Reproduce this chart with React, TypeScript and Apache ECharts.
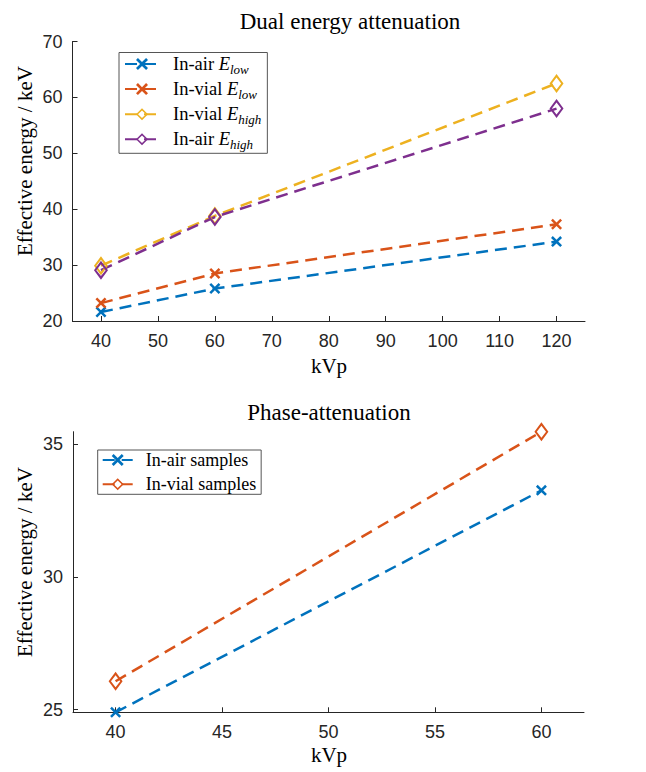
import React, { useEffect, useRef } from "react";
import * as echarts from "echarts";

// ---- Data ----
const dualKvp = [40, 60, 120];
const inAirLow = [21.6, 25.8, 34.2];
const inVialLow = [23.2, 28.5, 37.3];
const inVialHigh = [29.9, 38.8, 62.5];
const inAirHigh = [29.1, 38.6, 58.0];

const phaseKvp = [40, 60];
const inAirSamples = [24.9, 33.26];
const inVialSamples = [26.07, 35.47];

const dualXTicks = [40, 50, 60, 70, 80, 90, 100, 110, 120];
const phaseXTicks = [40, 45, 50, 55, 60];
const phaseYTicks = [25, 30, 35];

const BLUE = "#0072BD";
const ORANGE = "#D95319";
const YELLOW = "#EDB120";
const PURPLE = "#7E2F8E";
const AXIS = "#262626";
const SERIF = "Liberation Serif";
const SANS = "Liberation Sans";

const X_SYMBOL =
  "path://M0,1.6L1.6,0L5,3.4L8.4,0L10,1.6L6.6,5L10,8.4L8.4,10L5,6.6L1.6,10L0,8.4L3.4,5Z";
const D_SYMBOL =
  "path://M5,0L10,7L5,14L0,7ZM5,2.6L1.7,7L5,11.4L8.3,7Z";

const legendLabels: Record<string, string> = {
  "In-air E_low": "{n|In-air }{e|E}{s|low}",
  "In-vial E_low": "{n|In-vial }{e|E}{s|low}",
  "In-vial E_high": "{n|In-vial }{e|E}{s|high}",
  "In-air E_high": "{n|In-air }{e|E}{s|high}",
  "In-air samples": "{m|In-air samples}",
  "In-vial samples": "{m|In-vial samples}",
};

function mkSeries(
  name: string,
  xs: number[],
  ys: number[],
  color: string,
  symbol: string,
  size: number | number[],
  idx: number
) {
  return {
    type: "line",
    name,
    xAxisIndex: idx,
    yAxisIndex: idx,
    data: xs.map((x, i) => [x, ys[i]]),
    symbol,
    symbolSize: size,
    showSymbol: true,
    clip: false,
    lineStyle: { color, width: 2.5, type: [12, 7] },
    itemStyle: { color },
    emphasis: { disabled: true },
  };
}

function axisCommon() {
  return {
    type: "value",
    axisLine: { show: true, onZero: false, lineStyle: { color: AXIS, width: 1 } },
    splitLine: { show: false },
  };
}

export default function App() {
  const ref = useRef<HTMLDivElement>(null);

  useEffect(() => {
    if (!ref.current) return;
    const chart = echarts.init(ref.current, undefined, { renderer: "svg" });

    const labelStyle = { color: AXIS, fontFamily: SANS, fontSize: 18 };
    const tickStyle = { show: true, inside: true, length: 5, lineStyle: { color: AXIS, width: 1 } };
    const txt = (text: string, x: number, y: number, size: number, rot = 0) => ({
      type: "text",
      x,
      y,
      rotation: rot,
      style: { text, fontFamily: SERIF, fontSize: size, fill: "#000", align: "center", verticalAlign: "middle" },
    });

    const option: any = {
      animation: false,
      backgroundColor: "#fff",
      grid: [
        { left: 72.5, right: 61, top: 41.5, bottom: 451, containLabel: false },
        { left: 73, right: 62, top: 431.7, bottom: 59.7, containLabel: false },
      ],
      xAxis: [
        {
          ...axisCommon(),
          gridIndex: 0,
          min: 35,
          max: 125,
          axisTick: { ...tickStyle, customValues: dualXTicks },
          axisLabel: { ...labelStyle, margin: 11, customValues: dualXTicks },
        },
        {
          ...axisCommon(),
          gridIndex: 1,
          min: 38,
          max: 62,
          axisTick: { ...tickStyle, customValues: phaseXTicks },
          axisLabel: { ...labelStyle, margin: 11, customValues: phaseXTicks },
        },
      ],
      yAxis: [
        {
          ...axisCommon(),
          gridIndex: 0,
          min: 20,
          max: 70,
          interval: 10,
          axisTick: { ...tickStyle },
          axisLabel: { ...labelStyle, margin: 10 },
        },
        {
          ...axisCommon(),
          gridIndex: 1,
          min: 24.9,
          max: 35.47,
          axisTick: { ...tickStyle, customValues: phaseYTicks },
          axisLabel: { ...labelStyle, margin: 10, customValues: phaseYTicks },
        },
      ],
      legend: [
        {
          orient: "vertical",
          left: 119,
          top: 52.5,
          data: ["In-air E_low", "In-vial E_low", "In-vial E_high", "In-air E_high"],
          itemWidth: 34,
          itemHeight: 15,
          itemGap: 3.6,
          padding: [2, 6, 2, 5],
          backgroundColor: "#fff",
          borderColor: "#555",
          borderWidth: 1,
          borderRadius: 0,
          selectedMode: false,
          formatter: (name: string) => legendLabels[name] || name,
          textStyle: {
            color: "#000",
            fontFamily: SERIF,
            fontSize: 18.5,
            rich: {
              n: { fontFamily: SERIF, fontSize: 18.5, color: "#000", lineHeight: 24, verticalAlign: "middle", padding: [0, 0, 0, 9] },
              e: { fontFamily: SERIF, fontSize: 18.5, fontStyle: "italic", color: "#000", lineHeight: 24, verticalAlign: "middle" },
              s: { fontFamily: SERIF, fontSize: 13, fontStyle: "italic", color: "#000", verticalAlign: "bottom" },
            },
          },
        },
        {
          orient: "vertical",
          left: 97.7,
          top: 450,
          data: ["In-air samples", "In-vial samples"],
          itemWidth: 30,
          itemHeight: 15,
          itemGap: 6.3,
          padding: [1, 5, 1, 4],
          backgroundColor: "#fff",
          borderColor: "#555",
          borderWidth: 1,
          borderRadius: 0,
          selectedMode: false,
          formatter: (name: string) => legendLabels[name] || name,
          textStyle: {
            color: "#000",
            fontFamily: SERIF,
            fontSize: 18,
            rich: {
              m: { fontFamily: SERIF, fontSize: 18, color: "#000", lineHeight: 20, padding: [0, 0, 0, 8] },
            },
          },
        },
      ],
      series: [
        mkSeries("In-air E_low", dualKvp, inAirLow, BLUE, X_SYMBOL, 11, 0),
        mkSeries("In-vial E_low", dualKvp, inVialLow, ORANGE, X_SYMBOL, 11, 0),
        mkSeries("In-vial E_high", dualKvp, inVialHigh, YELLOW, D_SYMBOL, [14, 19], 0),
        mkSeries("In-air E_high", dualKvp, inAirHigh, PURPLE, D_SYMBOL, [14, 19], 0),
        mkSeries("In-air samples", phaseKvp, inAirSamples, BLUE, X_SYMBOL, 11, 1),
        mkSeries("In-vial samples", phaseKvp, inVialSamples, ORANGE, D_SYMBOL, [14, 19], 1),
      ],
      graphic: [
        txt("Dual energy attenuation", 350, 21, 23),
        txt("Phase-attenuation", 329, 412, 23),
        txt("Effective energy / keV", 25, 161, 21, Math.PI / 2),
        txt("Effective energy / keV", 25, 562, 21, Math.PI / 2),
        txt("kVp", 329, 366, 21),
        txt("kVp", 329, 755, 21),
      ],
    };

    chart.setOption(option);
    return () => chart.dispose();
  }, []);

  return (
    <div
      ref={ref}
      style={{ position: "absolute", left: 0, top: 0, width: 646, height: 772, background: "#fff" }}
    />
  );
}
